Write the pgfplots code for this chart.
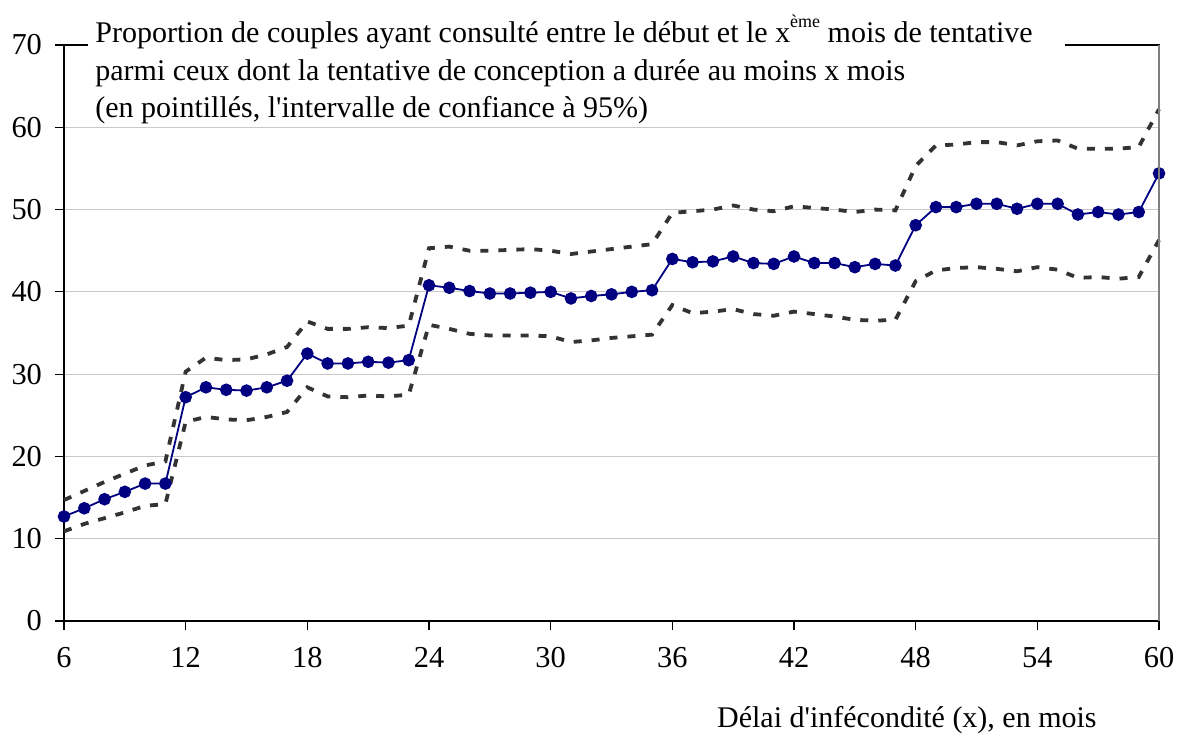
\documentclass[border=0pt]{standalone}
\usepackage{fontspec}
\setmainfont{Liberation Serif}[Ligatures=TeXOff]
\usepackage{pgfplots}
\usepackage{pgfplotstable}
\pgfplotsset{compat=1.18}
\definecolor{navyb}{RGB}{0,0,128}
\definecolor{dashg}{RGB}{51,51,51}
\definecolor{gridg}{RGB}{200,200,200}
\pgfplotstableread{
m mid up lo
6 12.7 14.7 10.9
7 13.7 15.8 11.8
8 14.8 16.9 12.5
9 15.7 17.9 13.2
10 16.7 18.9 14.0
11 16.7 19.4 14.2
12 27.2 30.3 24.2
13 28.4 32.0 24.8
14 28.1 31.7 24.5
15 28.0 31.8 24.4
16 28.4 32.4 24.8
17 29.2 33.3 25.4
18 32.5 36.4 28.4
19 31.3 35.5 27.3
20 31.3 35.5 27.2
21 31.5 35.7 27.4
22 31.4 35.6 27.3
23 31.7 35.9 27.5
24 40.8 45.3 36.0
25 40.5 45.5 35.5
26 40.1 45.0 34.9
27 39.8 45.0 34.7
28 39.8 45.1 34.7
29 39.9 45.2 34.7
30 40.0 45.0 34.6
31 39.2 44.6 33.9
32 39.5 44.9 34.1
33 39.7 45.2 34.4
34 40.0 45.5 34.6
35 40.2 45.8 34.8
36 44.0 49.6 38.4
37 43.6 49.8 37.4
38 43.7 50.0 37.6
39 44.3 50.5 37.9
40 43.5 50.0 37.3
41 43.4 49.8 37.1
42 44.3 50.4 37.6
43 43.5 50.2 37.3
44 43.5 50.0 37.0
45 43.0 49.7 36.6
46 43.4 50.0 36.5
47 43.2 49.9 36.6
48 48.1 55.3 41.3
49 50.3 57.8 42.6
50 50.3 57.9 42.9
51 50.7 58.2 43.0
52 50.7 58.2 42.8
53 50.1 57.8 42.5
54 50.7 58.3 43.0
55 50.7 58.4 42.7
56 49.4 57.4 41.7
57 49.7 57.4 41.8
58 49.4 57.4 41.6
59 49.7 57.6 41.8
60 54.4 62.2 46.3
}\datatab
\begin{document}
\begin{tikzpicture}
\useasboundingbox (-32pt,-57pt) rectangle (556.5pt,310.5pt);
\begin{axis}[
  name=ax,
  at={(0,0)}, anchor=south west,
  scale only axis,
  width=547.5pt, height=288pt,
  xmin=6, xmax=60, ymin=0, ymax=70,
  xtick={6,12,...,60}, ytick={0,10,...,70},
  minor tick num=0,
  tick align=outside,
  major tick length=4.5pt,
  tick style={black, line width=0.6pt},
  xtick pos=bottom, ytick pos=left,
  ymajorgrids,
  grid style={gridg, line width=0.6pt},
  axis line style={black, line width=0.6pt},
  /pgf/number format/assume math mode=true,
  ticklabel style={font=\fontsize{15.2}{17}\selectfont},
  yticklabel style={xshift=-3pt},
  xticklabel style={yshift=-5pt},
  clip=false,
]
\addplot[dashg, line width=1.9pt, dash pattern=on 4pt off 5pt] table[x=m,y=up] {\datatab};
\addplot[dashg, line width=1.9pt, dash pattern=on 4pt off 5pt] table[x=m,y=lo] {\datatab};
\addplot[navyb, line width=0.9pt, mark=*, mark size=2.7pt, mark options={fill=navyb, draw=navyb}] table[x=m,y=mid] {\datatab};
\end{axis}
\draw[gray, line width=0.6pt] (ax.south east) -- (ax.north east);
\fill[white] ([xshift=12pt,yshift=15pt]ax.north west) rectangle ([xshift=500.5pt,yshift=-38pt]ax.north west);
\begin{scope}[every node/.style={font=\fontsize{15}{17}\selectfont, inner sep=0pt, anchor=base west}]
\node at ([xshift=15.5pt,yshift=1.5pt]ax.north west) {Proportion de couples ayant consulté entre le début et le x\raisebox{0.5em}{\fontsize{9}{9}\selectfont ème} mois de tentative};
\node at ([xshift=15.5pt,yshift=-17.5pt]ax.north west) {parmi ceux dont la tentative de conception a durée au moins x mois};
\node at ([xshift=15.5pt,yshift=-36pt]ax.north west) {(en pointillés, l'intervalle de confiance à 95\%)};
\node[anchor=base east] at ([xshift=-31pt,yshift=-53pt]ax.south east) {Délai d'infécondité (x), en mois};
\end{scope}
\end{tikzpicture}
\end{document}
